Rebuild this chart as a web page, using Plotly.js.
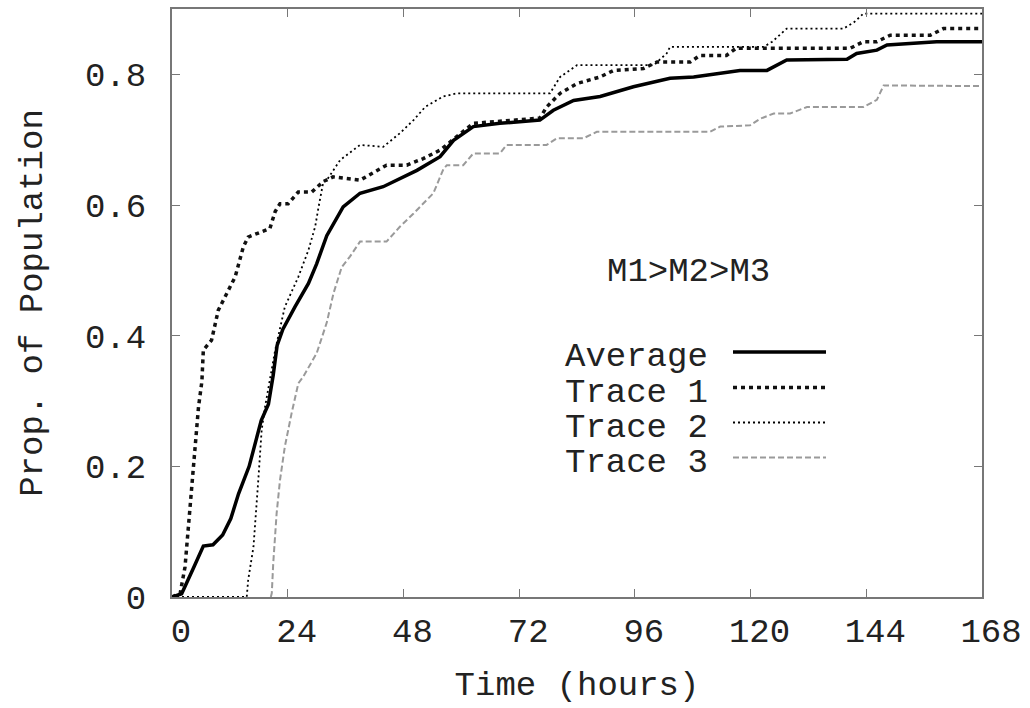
<!DOCTYPE html>
<html>
<head>
<meta charset="utf-8">
<script src="https://cdn.plot.ly/plotly-3.0.1.min.js"></script>
<style>html,body{margin:0;padding:0;background:#fff;}</style>
</head>
<body>
<div id="chart" style="width:1030px;height:708px;"></div>
<script>
// ---- data ----
const avgX = [0, 2, 4.5, 6.5, 8.5, 10.5, 12.2, 13.8, 16, 17.3, 18.5, 20, 21, 21.8, 23, 25.5, 28.3, 30.0, 32.1, 35.5, 39.0, 43.8, 46.6, 50.8, 55.6, 58.4, 62.5, 68.0, 76.3, 79.1, 83.3, 88.8, 95.7, 103.3, 108.2, 117.8, 123.4, 127.5, 140.0, 142.0, 146.2, 148.3, 158.6, 168];
const avgY = [0, 0.005, 0.045, 0.078, 0.08, 0.095, 0.12, 0.158, 0.2, 0.235, 0.27, 0.295, 0.34, 0.385, 0.41, 0.444, 0.48, 0.51, 0.553, 0.597, 0.618, 0.628, 0.638, 0.653, 0.674, 0.699, 0.72, 0.725, 0.73, 0.745, 0.76, 0.766, 0.781, 0.794, 0.796, 0.806, 0.806, 0.822, 0.823, 0.832, 0.837, 0.845, 0.85, 0.85];

const t1X = [0, 1.7, 2.7, 3.7, 4.8, 5.5, 6.2, 6.5, 8.2, 9.6, 11.3, 13.1, 14.8, 15.8, 20.3, 21.4, 22.4, 24.1, 26.2, 29.0, 31.4, 33.4, 39.0, 44.5, 48.7, 52.1, 55.6, 59.1, 62.5, 76.3, 77.7, 80.5, 84.0, 88.8, 91.6, 97.8, 100.6, 107.5, 109.5, 115.0, 117.0, 140.7, 143.4, 146.2, 149.0, 157.3, 160.0, 168];
const t1Y = [0, 0.006, 0.046, 0.128, 0.23, 0.291, 0.33, 0.378, 0.393, 0.439, 0.465, 0.49, 0.536, 0.551, 0.564, 0.59, 0.602, 0.602, 0.62, 0.62, 0.636, 0.643, 0.638, 0.661, 0.661, 0.671, 0.684, 0.704, 0.725, 0.733, 0.75, 0.771, 0.786, 0.796, 0.806, 0.809, 0.819, 0.819, 0.829, 0.829, 0.84, 0.84, 0.85, 0.85, 0.86, 0.86, 0.87, 0.87];

const t2X = [0, 15.5, 15.8, 16.9, 17.9, 18.6, 19.3, 20.3, 21.4, 23.4, 26.2, 28.3, 29.7, 30.4, 31.4, 32.1, 34.9, 39.0, 43.8, 47.3, 50.1, 52.5, 56.2, 59.1, 78.4, 80.5, 84.0, 99.9, 102.6, 103.3, 122.7, 124.5, 127.5, 139.3, 141.5, 143.4, 168];
const t2Y = [0, 0, 0.026, 0.077, 0.179, 0.256, 0.291, 0.332, 0.378, 0.444, 0.49, 0.531, 0.567, 0.597, 0.636, 0.638, 0.669, 0.692, 0.689, 0.71, 0.73, 0.75, 0.766, 0.771, 0.771, 0.796, 0.814, 0.814, 0.832, 0.842, 0.842, 0.85, 0.87, 0.87, 0.88, 0.893, 0.893];

const t3X = [20.5, 20.7, 21.0, 21.7, 22.4, 23.4, 24.8, 26.2, 27.2, 30.0, 32.1, 33.5, 35.2, 36.9, 39.0, 44.5, 47.3, 50.1, 54.2, 56.3, 57.0, 60.4, 62.5, 68.0, 69.4, 77.7, 79.8, 85.3, 88.1, 111.6, 113.7, 119.9, 122.0, 124.8, 128.2, 131.7, 143.4, 146.2, 147.6, 168];
const t3Y = [0, 0.006, 0.052, 0.128, 0.179, 0.23, 0.281, 0.327, 0.337, 0.373, 0.42, 0.465, 0.505, 0.521, 0.544, 0.544, 0.567, 0.587, 0.618, 0.655, 0.661, 0.661, 0.679, 0.679, 0.692, 0.692, 0.702, 0.702, 0.712, 0.712, 0.72, 0.722, 0.732, 0.74, 0.74, 0.75, 0.75, 0.761, 0.783, 0.782];

const seriesNames = ["Average", "Trace 1", "Trace 2", "Trace 3"];
const xTicks = [0, 24, 48, 72, 96, 120, 144, 168];
const yTicks = [0, 0.2, 0.4, 0.6, 0.8];
const xTitle = "Time (hours)";
const yTitle = "Prop. of Population";
const panelLabel = "M1>M2>M3";

// ---- styles ----
const FONT = '"Courier New", "Liberation Mono", monospace';
const TXT = '#222';
const styles = [
  {color: '#000', width: 3.5, dash: 'solid'},
  {color: '#111', width: 3.5, dash: '4px,4px'},
  {color: '#000', width: 1.8, dash: '2px,3px'},
  {color: '#9a9a9a', width: 2, dash: '6px,3px'}
];
const xs = [avgX, t1X, t2X, t3X];
const ys = [avgY, t1Y, t2Y, t3Y];

// draw order: light ones first, average on top
const order = [3, 2, 1, 0];
const traces = order.map(i => ({
  type: 'scatter', mode: 'lines', name: seriesNames[i],
  x: xs[i], y: ys[i],
  line: {color: styles[i].color, width: styles[i].width, dash: styles[i].dash},
  showlegend: false, hoverinfo: 'skip'
}));

// manual legend (text left, sample right, as in the reference)
const legRows = [0.4167, 0.3563, 0.2968, 0.2372];
const annotations = [{
  xref: 'paper', yref: 'paper', x: 0.638, y: 0.553,
  text: panelLabel, showarrow: false, xanchor: 'center', yanchor: 'middle',
  font: {family: FONT, size: 34, color: TXT}
}];
const shapes = [];
seriesNames.forEach((nm, i) => {
  annotations.push({
    xref: 'paper', yref: 'paper', x: 0.483, y: legRows[i] - 0.009,
    text: nm, showarrow: false, xanchor: 'left', yanchor: 'middle',
    font: {family: FONT, size: 34, color: TXT}
  });
  shapes.push({
    type: 'line', xref: 'paper', yref: 'paper',
    x0: 0.6926, x1: 0.8074, y0: legRows[i], y1: legRows[i],
    line: {color: styles[i].color, width: styles[i].width, dash: styles[i].dash}
  });
});

const axisCommon = {
  showline: true, linecolor: '#777', linewidth: 2, mirror: 'ticks',
  ticks: 'inside', ticklen: 8, tickwidth: 1, tickcolor: '#777',
  showgrid: false, zeroline: false,
  tickfont: {family: FONT, size: 34, color: TXT}
};

const layout = {
  width: 1030, height: 708,
  margin: {l: 172, r: 48, t: 9, b: 111},
  paper_bgcolor: '#fff', plot_bgcolor: '#fff',
  font: {family: FONT, size: 34, color: TXT},
  xaxis: Object.assign({}, axisCommon, {
    range: [0, 168], tickvals: xTicks, ticktext: xTicks.map(String),
    ticklabelshift: 9, ticklabelstandoff: 2,
    title: {text: xTitle, font: {family: FONT, size: 34, color: TXT}, standoff: 20}
  }),
  yaxis: Object.assign({}, axisCommon, {
    range: [0, 0.9], tickvals: yTicks, ticktext: yTicks.map(v => v === 0 ? '0' : v.toFixed(1)),
    ticklabelstandoff: 17,
    title: {text: yTitle, font: {family: FONT, size: 34, color: TXT}, standoff: 32}
  }),
  annotations: annotations,
  shapes: shapes,
  showlegend: false
};

Plotly.newPlot('chart', traces, layout, {staticPlot: true, displayModeBar: false});
</script>
</body>
</html>
